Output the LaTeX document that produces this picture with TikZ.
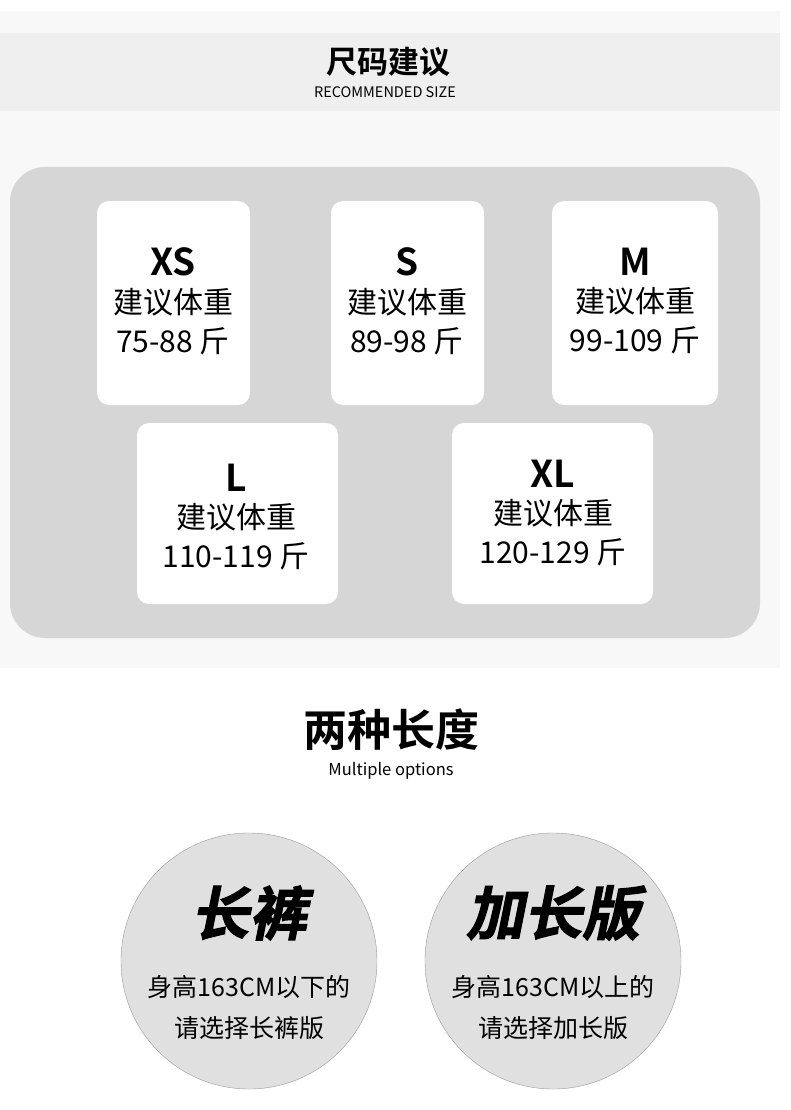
\documentclass[tikz,border=0pt]{standalone}
\usepackage{fontspec}
\setmainfont{Noto Sans CJK SC}[BoldFont={Noto Sans CJK SC Bold}]
\newfontfamily\cjkslant{Noto Sans CJK SC Bold}[FakeSlant=0.2,FakeBold=2]
\usetikzlibrary{positioning}
\definecolor{bandgray}{HTML}{EFEFEF}
\definecolor{pagegray}{HTML}{F8F8F8}
\definecolor{panelgray}{HTML}{D6D6D6}
\definecolor{discgray}{HTML}{E0E0E0}
\begin{document}
\begin{tikzpicture}[x=1pt,y=-1pt,
	sizebox/.style={fill=white,rounded corners=12pt,inner sep=0pt},
	disc/.style={draw=gray!80,fill=discgray,circle,minimum size=256pt,inner sep=0pt}]
	\useasboundingbox (0,0) rectangle (790,1110);
	\fill[pagegray] (0,11) rectangle (780,668);
	\fill[bandgray] (0,33) rectangle (780,111);
	\node (title) at (388,62) {\bfseries\fontsize{31}{31}\selectfont 尺码建议};
	\node (subtitle) at (385,92) {\fontsize{14.5}{14.5}\selectfont RECOMMENDED SIZE};
	\fill[panelgray,rounded corners=35pt] (10,167) rectangle (760,638);

	% size boxes
	\fill[sizebox] (97,201) rectangle (250,405);
	\fill[sizebox] (331,201) rectangle (484,405);
	\fill[sizebox] (552,201) rectangle (718,405);
	\fill[sizebox] (137,423) rectangle (338,604);
	\fill[sizebox] (452,423) rectangle (653,604);
	\foreach \name/\cx/\cy/\sz/\kg in {xs/173/262/XS/75-88,s/407/262/S/89-98,m/635/262/M/99-109,l/236/478/L/110-119,xl/553/474/XL/120-129}{
		\node (\name) at (\cx,\cy) {\bfseries\fontsize{37}{37}\selectfont \sz};
		\node (\name w) [below=5pt of \name] {\fontsize{30}{30}\selectfont 建议体重};
		\node (\name kg) [below=4pt of \name w] {\fontsize{30}{30}\selectfont \kg{} 斤};
	}

	\node (lenhead) at (391,730) {\bfseries\fontsize{44}{44}\selectfont 两种长度};
	\node (lensub) at (391,771) {\fontsize{16.5}{16.5}\selectfont Multiple options};

	% length options
	\node (long) [disc] at (249,961) {};
	\node (extra) [disc] at (553,961) {};
	\node at (249,913) {\cjkslant\fontsize{58}{58}\selectfont 长裤};
	\node at (553,913) {\cjkslant\fontsize{58}{58}\selectfont 加长版};
	\node at (249,987) {\fontsize{25}{25}\selectfont 身高163CM以下的};
	\node at (249,1028) {\fontsize{25}{25}\selectfont 请选择长裤版};
	\node at (553,987) {\fontsize{25}{25}\selectfont 身高163CM以上的};
	\node at (553,1028) {\fontsize{25}{25}\selectfont 请选择加长版};
\end{tikzpicture}
\end{document}
